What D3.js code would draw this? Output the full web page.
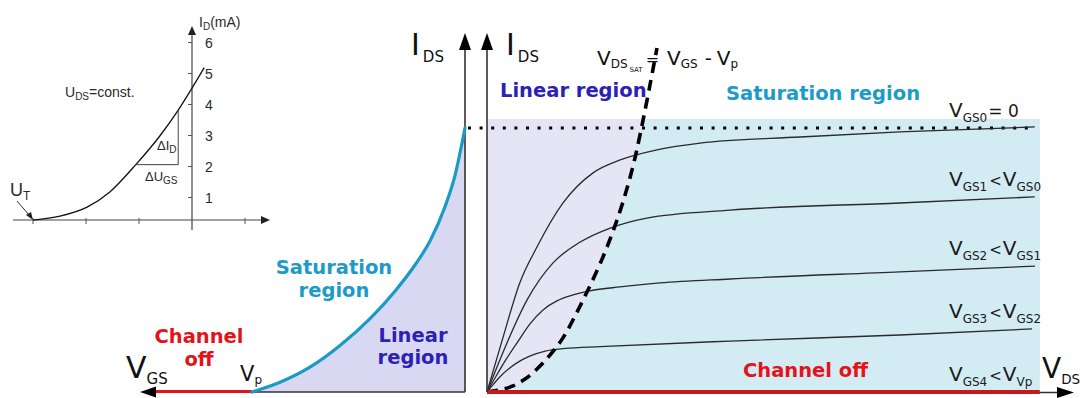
<!DOCTYPE html>
<html><head><meta charset="utf-8">
<script src="https://cdn.jsdelivr.net/npm/d3@7/dist/d3.min.js"></script>
<style>html,body{margin:0;padding:0;background:#fff;}svg{display:block;font-family:"DejaVu Sans",sans-serif;}</style>
</head><body>
<svg id="c" width="1084" height="398"></svg>
<script>
// ---------- DATA ----------
// Inset transfer characteristic (U_GS in V, I_D in mA)
const insetUgs = [-3.0,-2.49,-1.98,-1.55,-1.06,-0.60,-0.26,0,0.23];
const insetId  = [0.27,0.40,0.69,1.18,2.06,3.00,3.82,4.53,5.19];
const insetYTicks = [1,2,3,4,5,6];
const insetXTicks = [-3,-2,-1,1];
// Left panel transfer curve (V_GS relative, I_DS normalised to I_DSS)
const leftVgs = [-4,-3.474,-2.911,-2.347,-1.784,-1.315,-0.939,-0.657,-0.376,-0.188,0];
const leftIds = [0,0.037,0.094,0.176,0.278,0.382,0.481,0.572,0.702,0.820,1.0];
// Right panel output characteristics
const vds0 = [0,0.29,0.59,0.90,1.37,1.91,2.40,3.06,3.84,5.64,7.44,9.87];
const ids0 = [0,0.208,0.413,0.549,0.716,0.830,0.879,0.917,0.943,0.966,0.985,1.004];
const vds1 = [0,0.18,0.36,0.72,1.19,1.68,2.22,2.88,4.38,7.44,9.87];
const ids1 = [0,0.095,0.186,0.348,0.489,0.568,0.621,0.659,0.689,0.716,0.739];
const vds2 = [0,0.144,0.324,0.541,0.775,1.009,1.261,1.495,1.856,2.396,3.117,4.378,7.441,9.874];
const ids2 = [0,0.053,0.117,0.186,0.258,0.311,0.345,0.364,0.383,0.398,0.413,0.428,0.455,0.477];
const vds3 = [0,0.09,0.23,0.41,0.59,0.77,1.05,1.41,2.04,4.38,7.44,9.82];
const ids3 = [0,0.023,0.057,0.091,0.117,0.136,0.155,0.165,0.172,0.193,0.216,0.239];
// V_DS,sat boundary
const vdsSat = [0,0.234,0.468,0.685,0.901,1.135,1.369,1.586,1.802,2.036,2.252,2.450,2.631,2.775,2.919,3.063];
const idsSat = [0,0.008,0.023,0.049,0.087,0.140,0.205,0.288,0.379,0.485,0.598,0.720,0.856,0.992,1.144,1.303];

const zip = (a,b)=>a.map((v,i)=>[v,b[i]]);

// ---------- SCALES ----------
const svg = d3.select("#c");
const xR = d3.scaleLinear().domain([0,10]).range([487,1042]);
const yI = d3.scaleLinear().domain([0,1]).range([392,128]);
const xL = d3.scaleLinear().domain([-4,0]).range([252,465]);
const xU = d3.scaleLinear().domain([-3,0]).range([33,192]);
const yD = d3.scaleLinear().domain([0,6]).range([228.5,42.5]);

const AX = "#333";
const RED = "#e3131b", BLUE = "#1d9bc8", INDIGO = "#2b22b4";

// ---------- INSET ----------
const ins = svg.append("g").attr("font-family","'Liberation Sans',Arial,sans-serif").attr("fill","#2a2a2a");
const insAxisY = 220;
ins.append("line").attr("x1",13).attr("x2",262).attr("y1",insAxisY).attr("y2",insAxisY).attr("stroke","#444").attr("stroke-width",1.2);
ins.append("path").attr("d",`M270,${insAxisY} L261,${insAxisY-4} L261,${insAxisY+4}Z`).attr("fill","#222");
ins.append("line").attr("x1",xU(0)).attr("x2",xU(0)).attr("y1",230).attr("y2",34).attr("stroke","#444").attr("stroke-width",1.2);
ins.append("path").attr("d",`M${xU(0)},26 L${xU(0)-4},35 L${xU(0)+4},35Z`).attr("fill","#222");
insetYTicks.forEach(t=>{
  ins.append("line").attr("x1",xU(0)-4).attr("x2",xU(0)).attr("y1",yD(t)).attr("y2",yD(t)).attr("stroke","#555");
  ins.append("text").attr("x",xU(0)+13).attr("y",yD(t)+5).attr("font-size",14).text(t);
});
insetXTicks.forEach(t=>{
  ins.append("line").attr("x1",xU(t)).attr("x2",xU(t)).attr("y1",insAxisY-2).attr("y2",insAxisY+4).attr("stroke","#555");
});
ins.append("path").datum(zip(insetUgs,insetId))
  .attr("d",d3.line().x(d=>xU(d[0])).y(d=>yD(d[1])).curve(d3.curveMonotoneX))
  .attr("fill","none").attr("stroke","#111").attr("stroke-width",1.3);
// slope triangle
ins.append("path").attr("d",`M${xU(-1.06)},${yD(2.06)} H${xU(-0.26)} V${yD(3.82)}`).attr("fill","none").attr("stroke","#444").attr("stroke-width",1);
ins.append("text").attr("x",199).attr("y",27).attr("font-size",14).html('I<tspan font-size="10" dy="3">D</tspan><tspan dy="-3">(mA)</tspan>');
ins.append("text").attr("x",65).attr("y",97).attr("font-size",14).html('U<tspan font-size="10" dy="3">DS</tspan><tspan dy="-3">=const.</tspan>');
ins.append("text").attr("x",157).attr("y",150).attr("font-size",13).html('ΔI<tspan font-size="10" dy="3">D</tspan>');
ins.append("text").attr("x",145).attr("y",181).attr("font-size",13).html('ΔU<tspan font-size="10" dy="3">GS</tspan>');
ins.append("text").attr("x",10).attr("y",196).attr("font-size",18).html('U<tspan font-size="12" dy="4">T</tspan>');
ins.append("line").attr("x1",17).attr("y1",201).attr("x2",30).attr("y2",216).attr("stroke","#333").attr("stroke-width",1);
ins.append("path").attr("d","M33,220 L26,215 L31,212Z").attr("fill","#222");

// ---------- LEFT PANEL ----------
const leftPts = zip(leftVgs,leftIds);
svg.append("path").datum(leftPts)
  .attr("d",d3.area().x(d=>xL(d[0])).y0(yI(0)).y1(d=>yI(d[1])).curve(d3.curveMonotoneX))
  .attr("fill","#d9d8f2");
svg.append("line").attr("x1",150).attr("x2",xL(0)).attr("y1",yI(0)).attr("y2",yI(0)).attr("stroke",AX).attr("stroke-width",1.6);
svg.append("line").attr("x1",152).attr("x2",xL(-4)).attr("y1",yI(0)-0.5).attr("y2",yI(0)-0.5).attr("stroke",RED).attr("stroke-width",3);
svg.append("path").attr("d",`M140,${yI(0)} L156,${yI(0)-5.5} L156,${yI(0)+5.5}Z`).attr("fill","#000");
svg.append("line").attr("x1",xL(0)).attr("x2",xL(0)).attr("y1",yI(0)).attr("y2",48).attr("stroke",AX).attr("stroke-width",1.6);
svg.append("path").attr("d",`M${xL(0)},33 L${xL(0)-6},50 L${xL(0)+6},50Z`).attr("fill","#000");
svg.append("path").datum(leftPts)
  .attr("d",d3.line().x(d=>xL(d[0])).y(d=>yI(d[1])).curve(d3.curveMonotoneX))
  .attr("fill","none").attr("stroke","#1a9bc6").attr("stroke-width",3.2).attr("stroke-linecap","round");

// ---------- RIGHT PANEL ----------
const topI = 1.034, rightV = 9.96;
const defs = svg.append("defs");
defs.append("clipPath").attr("id","rc").append("rect")
  .attr("x",xR(0)).attr("y",yI(topI)).attr("width",xR(rightV)-xR(0)).attr("height",yI(0)-yI(topI));
const rg = svg.append("g").attr("clip-path","url(#rc)");
rg.append("rect").attr("x",xR(0)).attr("y",yI(topI)).attr("width",xR(rightV)-xR(0)).attr("height",yI(0)-yI(topI)).attr("fill","#e6e5f5");
const satPts = zip(vdsSat,idsSat);
const satPoly = satPts.concat([[12,idsSat[idsSat.length-1]],[12,0]]);
rg.append("path").datum(satPoly)
  .attr("d",d3.line().x(d=>xR(d[0])).y(d=>yI(d[1])).curve(d3.curveLinear))
  .attr("fill","#d3ebf3");

svg.append("line").attr("x1",xL(0)+3).attr("x2",xR(9.82)).attr("y1",yI(1)).attr("y2",yI(1))
  .attr("stroke","#000").attr("stroke-width",3).attr("stroke-dasharray","3,8.6");

const lineR = d3.line().x(d=>xR(d[0])).y(d=>yI(d[1])).curve(d3.curveMonotoneX);
[[vds0,ids0],[vds1,ids1],[vds2,ids2],[vds3,ids3]].forEach(([v,i])=>{
  svg.append("path").datum(zip(v,i)).attr("d",lineR).attr("fill","none").attr("stroke","#2a2a2a").attr("stroke-width",1.3);
});
svg.append("path").datum(satPts).attr("d",d3.line().x(d=>xR(d[0])).y(d=>yI(d[1])).curve(d3.curveCatmullRom))
  .attr("fill","none").attr("stroke","#000").attr("stroke-width",3.6).attr("stroke-dasharray","11,7");

svg.append("line").attr("x1",xR(0)).attr("x2",1058).attr("y1",yI(0)+0.5).attr("y2",yI(0)+0.5).attr("stroke",AX).attr("stroke-width",1.6);
svg.append("path").attr("d",`M1074,${yI(0)+0.5} L1057,${yI(0)-5} L1057,${yI(0)+6}Z`).attr("fill","#000");
svg.append("line").attr("x1",xR(0)).attr("x2",xR(rightV)).attr("y1",yI(0)).attr("y2",yI(0)).attr("stroke","#c8161e").attr("stroke-width",4);
svg.append("line").attr("x1",xR(0)).attr("x2",xR(0)).attr("y1",yI(0)).attr("y2",48).attr("stroke",AX).attr("stroke-width",1.6);
svg.append("path").attr("d",`M${xR(0)},33 L${xR(0)-6},50 L${xR(0)+6},50Z`).attr("fill","#000");

// ---------- TEXT ----------
function lbl(x,y,html,size,fill){
  return svg.append("text").attr("x",x).attr("y",y).attr("font-size",size).attr("fill",fill||"#111").html(html);
}
lbl(411,55,'I<tspan font-size="15" dx="3" dy="7">DS</tspan>',30);
lbl(506,55,'I<tspan font-size="15" dx="3" dy="7">DS</tspan>',30);
lbl(126,378,'V<tspan font-size="15" dy="6">GS</tspan>',30);
lbl(1042,378,'V<tspan font-size="13.5" dy="6">DS</tspan>',28);
lbl(240,381,'V<tspan font-size="12" dy="3">p</tspan>',21);
lbl(597,65,'V<tspan font-size="12" dy="3">DS</tspan><tspan font-size="7" dy="4" dx="2">SAT</tspan><tspan font-size="16" dy="-7" dx="3">=</tspan><tspan dx="8">V</tspan><tspan font-size="12" dy="3">GS</tspan><tspan dy="-3" dx="7">-</tspan><tspan dx="6">V</tspan><tspan font-size="12" dy="3">p</tspan>',20);

const bold = (x,y,t,fill,anchor)=>svg.append("text").attr("x",x).attr("y",y).attr("font-size",19.5).attr("font-weight","bold")
  .attr("fill",fill).attr("text-anchor",anchor||"start").text(t);
bold(199,343,"Channel",RED,"middle");
bold(199,366,"off",RED,"middle");
bold(334,274,"Saturation",BLUE,"middle");
bold(334,297,"region",BLUE,"middle");
bold(413,342,"Linear",INDIGO,"middle");
bold(413,364,"region",INDIGO,"middle");
bold(500,97,"Linear region",INDIGO);
bold(726,100,"Saturation region",BLUE);
bold(743,377,"Channel off",RED);

const labelY = [1, ids1[ids1.length-1], ids2[ids2.length-1], ids3[ids3.length-1], 0];
const labelHtml = [
  'V<tspan font-size="12" dy="5">GS0</tspan><tspan font-size="17" dy="-5" dx="1">= 0</tspan>',
  'V<tspan font-size="12" dy="5">GS1</tspan><tspan font-size="15" dy="-5" dx="2">&lt;</tspan><tspan dx="1">V</tspan><tspan font-size="12" dy="5">GS0</tspan>',
  'V<tspan font-size="12" dy="5">GS2</tspan><tspan font-size="15" dy="-5" dx="2">&lt;</tspan><tspan dx="1">V</tspan><tspan font-size="12" dy="5">GS1</tspan>',
  'V<tspan font-size="12" dy="5">GS3</tspan><tspan font-size="15" dy="-5" dx="2">&lt;</tspan><tspan dx="1">V</tspan><tspan font-size="12" dy="5">GS2</tspan>',
  'V<tspan font-size="12" dy="5">GS4</tspan><tspan font-size="15" dy="-5" dx="2">&lt;</tspan><tspan dx="1">V</tspan><tspan font-size="12" dy="5">Vp</tspan>'
];
labelY.forEach((v,k)=>lbl(949, yI(v)-11, labelHtml[k], 20, "#1a1a1a"));
</script>
</body></html>
